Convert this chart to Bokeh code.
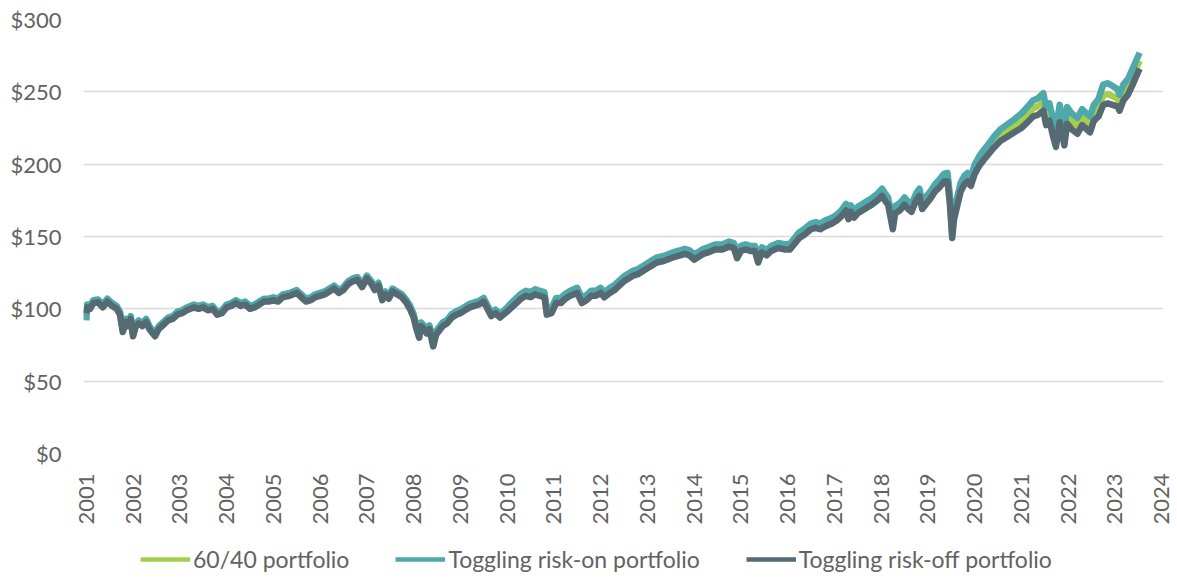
import math
from bokeh.plotting import figure
from bokeh.layouts import column
from bokeh.models import (Range1d, FixedTicker, NumeralTickFormatter, Legend, LegendItem,
                          ColumnDataSource)
from bokeh.embed import file_html
from bokeh.resources import INLINE

# Growth of $100, plotted against fractional year on the axis
dates = [
    2001.00, 2001.02, 2001.08, 2001.15, 2001.25, 2001.35, 2001.45, 2001.55, 2001.65, 2001.72,
    2001.78, 2001.85, 2001.90, 2001.95, 2002.00, 2002.06, 2002.12, 2002.20, 2002.28, 2002.35,
    2002.42, 2002.47, 2002.55, 2002.65, 2002.75, 2002.85, 2002.95, 2003.05, 2003.15, 2003.30,
    2003.40, 2003.50, 2003.60, 2003.70, 2003.80, 2003.90, 2004.00, 2004.10, 2004.20, 2004.30,
    2004.40, 2004.50, 2004.60, 2004.70, 2004.80, 2004.90, 2005.00, 2005.10, 2005.20, 2005.35,
    2005.50, 2005.60, 2005.70, 2005.80, 2005.90, 2006.00, 2006.10, 2006.20, 2006.30, 2006.40,
    2006.50, 2006.60, 2006.70, 2006.80, 2006.90, 2007.00, 2007.10, 2007.17, 2007.25, 2007.33,
    2007.40, 2007.47, 2007.55, 2007.65, 2007.75, 2007.85, 2007.92, 2008.00, 2008.06, 2008.12,
    2008.16, 2008.22, 2008.28, 2008.34, 2008.42, 2008.48, 2008.55, 2008.62, 2008.72, 2008.82,
    2008.92, 2009.00, 2009.10, 2009.20, 2009.30, 2009.40, 2009.50, 2009.58, 2009.66, 2009.75,
    2009.85, 2009.92, 2010.00, 2010.10, 2010.20, 2010.30, 2010.40, 2010.50, 2010.60, 2010.70,
    2010.80, 2010.85, 2010.95, 2011.05, 2011.15, 2011.25, 2011.35, 2011.50, 2011.60, 2011.70,
    2011.80, 2011.90, 2012.00, 2012.08, 2012.20, 2012.30, 2012.40, 2012.50, 2012.60, 2012.70,
    2012.80, 2012.90, 2013.00, 2013.10, 2013.20, 2013.35, 2013.50, 2013.60, 2013.70, 2013.80,
    2013.90, 2014.00, 2014.10, 2014.20, 2014.30, 2014.45, 2014.60, 2014.75, 2014.85, 2014.92,
    2015.00, 2015.10, 2015.20, 2015.30, 2015.37, 2015.45, 2015.55, 2015.65, 2015.80, 2015.95,
    2016.05, 2016.15, 2016.25, 2016.35, 2016.50, 2016.60, 2016.70, 2016.80, 2016.95, 2017.05,
    2017.15, 2017.25, 2017.30, 2017.35, 2017.42, 2017.50, 2017.60, 2017.70, 2017.80, 2017.92,
    2018.02, 2018.08, 2018.15, 2018.25, 2018.30, 2018.40, 2018.50, 2018.58, 2018.65, 2018.75,
    2018.82, 2018.88, 2018.95, 2019.05, 2019.15, 2019.25, 2019.35, 2019.42, 2019.47, 2019.52,
    2019.56, 2019.62, 2019.70, 2019.78, 2019.85, 2019.92, 2020.00, 2020.10, 2020.20, 2020.30,
    2020.40, 2020.55, 2020.70, 2020.85, 2021.00, 2021.10, 2021.25, 2021.35, 2021.47, 2021.53,
    2021.60, 2021.68, 2021.74, 2021.82, 2021.92, 2021.98, 2022.08, 2022.20, 2022.30, 2022.40,
    2022.47, 2022.55, 2022.65, 2022.75, 2022.85, 2022.95, 2023.05, 2023.10, 2023.18, 2023.28,
    2023.38, 2023.46, 2023.53,
]

risk_off = [
    97, 101, 100, 104, 104.5, 101, 105, 102, 100, 96,
    84, 91, 88, 93, 81, 88, 90, 88, 91, 86,
    83, 81, 86, 89, 92, 93, 96, 97, 99, 101,
    100, 101, 99, 100, 96, 97, 101, 102, 104, 102,
    103, 100, 101, 103, 105, 105, 106, 105, 108, 109,
    111, 108, 105, 106, 108, 109, 110, 112, 114, 111,
    113, 117, 119, 120, 115, 121, 117, 113, 116, 106,
    110, 107, 112, 110, 108, 104, 100, 94, 86, 80,
    88, 86, 83, 86, 74, 82, 85, 88, 90, 94,
    96, 97, 99, 101, 102, 103, 105, 100, 95, 97,
    94, 96, 98, 101, 104, 107, 109, 108, 110, 109,
    108, 96, 97, 104, 104, 107, 109, 111, 104, 106,
    109, 109, 111, 108, 111, 113, 116, 119, 121, 123,
    124, 126, 128, 130, 132, 133, 135, 136, 137, 138,
    137, 134, 136, 138, 139, 141, 141, 143, 142, 135,
    140, 141, 140, 140, 132, 139, 137, 140, 142, 141,
    141, 145, 149, 151, 155, 156, 155, 157, 159, 161,
    164, 168, 162, 167, 163, 166, 168, 170, 172, 175,
    178, 175, 172, 155, 166, 168, 172, 169, 167, 175,
    178, 169, 172, 176, 181, 184, 188, 188, 173, 149,
    162, 170, 181, 186, 188, 185, 193, 199, 203, 207,
    211, 216, 219, 222, 225, 228, 233, 234, 237, 227,
    230, 219, 212, 229, 213, 228, 224, 221, 227, 224,
    222, 230, 233, 241, 242, 241, 240, 237, 244, 248,
    255, 261, 266,
]

risk_on = [
    92, 103, 102, 106, 106.5, 103, 107, 104, 102, 98,
    86, 93, 90, 95, 83, 90, 92, 90, 93, 88,
    85, 83, 88, 91, 94, 95, 98, 99, 101, 103,
    102, 103, 101, 102, 98, 99, 103, 104, 106, 104,
    105, 102, 103, 105, 107, 107, 108, 107, 110, 111,
    113, 110, 107, 108, 110, 111, 112, 114, 116, 113,
    115, 119, 121, 122, 117, 123, 119, 115, 118, 108,
    112, 109, 114, 112, 110, 106, 102.5, 96.5, 88.5, 82.5,
    90.5, 88.5, 85.5, 88.5, 76.5, 84.5, 87.5, 90.5, 92.5, 96.5,
    98.5, 99.5, 101.5, 103.5, 104.5, 105.5, 107.5, 102.5, 97.5, 99.5,
    96.5, 98.5, 101, 104.5, 107.5, 110.5, 112.5, 111.5, 113.5, 112.5,
    111.5, 99.5, 100.5, 107.5, 107.5, 110.5, 112.5, 114.5, 107.5, 109.5,
    112.5, 112.5, 114.5, 111.5, 114.5, 116.5, 119.5, 122.5, 124.5, 126.5,
    127.5, 129.5, 131.5, 133.5, 135.5, 136.5, 138.5, 139.5, 140.5, 141.5,
    140.5, 137.5, 139.5, 141.5, 142.5, 144.5, 144.5, 146.5, 145.5, 138.5,
    143.5, 144.5, 143.5, 143.5, 135.5, 142.5, 140.5, 143.5, 145.5, 144.5,
    145, 149, 153, 155, 159, 160, 159, 161, 163, 165,
    168, 172.5, 166.5, 171.5, 167.5, 170.5, 172.5, 174.5, 176.5, 179.5,
    183, 180, 177, 160, 171, 173, 177, 174, 172, 180,
    183, 174, 177, 181, 186, 189.5, 193.5, 194, 179, 155,
    168, 176, 187, 192, 194, 191, 199.5, 205.5, 210, 214,
    218.5, 224, 227.5, 231, 235, 238.5, 244, 245.5, 249, 239,
    242, 231, 224, 241, 224.5, 239.5, 235, 232, 238, 235,
    233, 241, 245, 255, 256, 254, 252, 248, 255, 259,
    266, 272, 277,
]

sixty_forty = [
    95, 102, 101, 105, 105.5, 102, 106, 103, 101, 97,
    85, 92, 89, 94, 82, 89, 91, 89, 92, 87,
    84, 82, 87, 90, 93, 94, 97, 98, 100, 102,
    101, 102, 100, 101, 97, 98, 102, 103, 105, 103,
    104, 101, 102, 104, 106, 106, 107, 106, 109, 110,
    112, 109, 106, 107, 109, 110, 111, 113, 115, 112,
    114, 118, 120, 121, 116, 122, 118, 114, 117, 107,
    111, 108, 113, 111, 109, 105, 101, 95, 87, 81,
    89, 87, 84, 87, 75, 83, 86, 89, 91, 95,
    97, 98, 100, 102, 103, 104, 106, 101, 96, 98,
    95, 97, 99.5, 102.5, 105.5, 108.5, 110.5, 109.5, 111.5, 110.5,
    109.5, 97.5, 98.5, 105.5, 105.5, 108.5, 110.5, 112.5, 105.5, 107.5,
    110.5, 110.5, 112.5, 109.5, 112.5, 114.5, 117.5, 120.5, 122.5, 124.5,
    125.5, 127.5, 129.5, 131.5, 133.5, 134.5, 136.5, 137.5, 138.5, 139.5,
    138.5, 135.5, 137.5, 139.5, 140.5, 142.5, 142.5, 144.5, 143.5, 136.5,
    141.5, 142.5, 141.5, 141.5, 133.5, 140.5, 138.5, 141.5, 143.5, 142.5,
    143, 147, 151, 153, 157, 158, 157, 159, 161, 163,
    166, 170, 164, 169, 165, 168, 170, 172, 174, 177,
    180.5, 177.5, 174.5, 157.5, 168.5, 170.5, 174.5, 171.5, 169.5, 177.5,
    180.5, 171.5, 174.5, 178.5, 183.5, 186.5, 190.5, 191, 176, 152,
    165, 173, 184, 189, 191, 188, 196, 202, 206.5, 210.5,
    214.5, 220, 223, 226.5, 230, 233, 238.5, 240, 243, 233,
    236, 225, 218, 235, 219, 234, 229.5, 226.5, 232.5, 229.5,
    227.5, 235.5, 238.5, 247.5, 248.5, 247, 245.5, 242.5, 249.5, 253.5,
    260.5, 266.5, 271.5,
]

series_names = ["60/40 portfolio", "Toggling risk-on portfolio", "Toggling risk-off portfolio"]
series_colors = ["#A6CE4B", "#4FA9AB", "#566A74"]
year_ticks = list(range(2001, 2025))
value_ticks = [0, 50, 100, 150, 200, 250, 300]

FONT = "Lato"
TEXT_COLOR = "#626262"

# main chart
p = figure(width=1177, height=540, output_backend="svg", toolbar_location=None,
           x_range=Range1d(2000.94, 2024.04), y_range=Range1d(0, 300),
           min_border_left=83, min_border_right=14, min_border_top=19, min_border_bottom=87)
p.outline_line_color = None
p.background_fill_color = "white"
p.border_fill_color = "white"

src = ColumnDataSource(dict(x=dates, a=sixty_forty, b=risk_on, c=risk_off))
for col, color in zip(["a", "b", "c"], series_colors):
    p.line("x", col, source=src, line_color=color, line_width=6.5, line_join="round")

p.xaxis.ticker = FixedTicker(ticks=year_ticks)
p.yaxis.ticker = FixedTicker(ticks=value_ticks)
p.yaxis.formatter = NumeralTickFormatter(format="$0")
for ax in (p.xaxis[0], p.yaxis[0]):
    ax.axis_line_color = None
    ax.major_tick_line_color = None
    ax.minor_tick_line_color = None
    ax.major_label_text_font = FONT
    ax.major_label_text_font_size = "22px"
    ax.major_label_text_color = TEXT_COLOR
p.xaxis.major_label_orientation = math.pi / 2
p.xaxis.major_label_standoff = 14
p.yaxis.major_label_standoff = 16

p.xgrid.grid_line_color = None
p.ygrid.grid_line_color = "#d9d9d9"
p.ygrid.grid_line_width = 1.5

# legend strip underneath the chart; its key lines sit outside the strip's visible range
leg = figure(width=1177, height=38, output_backend="svg", toolbar_location=None,
             x_range=Range1d(0, 1), y_range=Range1d(0, 1),
             x_axis_type=None, y_axis_type=None,
             min_border_left=83, min_border_right=14, min_border_top=0, min_border_bottom=0)
leg.outline_line_color = None
leg.grid.visible = False
key_src = ColumnDataSource(dict(x=[-5, -4], y=[-5, -5]))
keys = [leg.line("x", "y", source=key_src, line_color=c, line_width=4.5) for c in series_colors]

legend = Legend(
    items=[LegendItem(label=n, renderers=[r]) for n, r in zip(series_names, keys)],
    orientation="horizontal", location=(57, 5),
    glyph_width=50, glyph_height=20, label_standoff=3, spacing=46,
    padding=0, margin=0, border_line_color=None, background_fill_alpha=0,
    label_text_font=FONT, label_text_font_size="23px", label_text_color=TEXT_COLOR,
)
leg.add_layout(legend, "center")

layout = column(p, leg, spacing=0)
open("out.html", "w").write(file_html(layout, INLINE))
